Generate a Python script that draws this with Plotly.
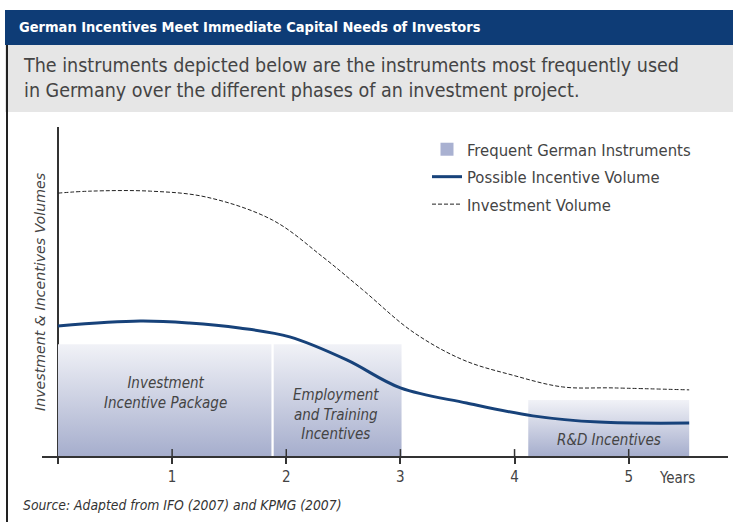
import plotly.graph_objects as go

# ---------------- data ----------------
years_invest = [0.0, 0.28, 0.81, 1.30, 1.88, 2.32, 2.67, 3.11, 3.55, 3.98, 4.42, 4.86, 5.53]
invest_volume = [79.9, 80.5, 80.5, 78.7, 71.7, 60.5, 50.5, 37.7, 29.2, 24.6, 21.0, 20.7, 20.1]

years_incentive = [0.0, 0.72, 1.15, 1.59, 2.03, 2.53, 3.0, 3.58, 4.16, 4.74, 5.53]
incentive_volume = [39.5, 41.0, 40.4, 38.9, 36.2, 29.2, 20.7, 16.1, 12.2, 10.3, 10.0]

box_start = [0.0, 1.89, 4.12]
box_end = [1.87, 3.01, 5.53]
box_top = [34.0, 34.0, 17.0]
box_labels = ["Investment<br>Incentive Package",
              "Employment<br>and Training<br>Incentives",
              "R&D Incentives"]
box_label_x = [0.94, 2.44, 4.83]
box_label_y = [19.3, 12.5, 4.9]

tick_vals = [0, 1, 2, 3, 4, 5]
tick_text = ["", "1", "2", "3", "4", "5"]

series_names = ["Frequent German Instruments", "Possible Incentive Volume", "Investment Volume"]

title_text = "German Incentives Meet Immediate Capital Needs of Investors"
subtitle_text = ("The instruments depicted below are the instruments most frequently used<br>"
                 "in Germany over the different phases of an investment project.")
source_text = "Source: Adapted from IFO (2007) and KPMG (2007)"
y_title = "Investment & Incentives Volumes"

# ---------------- layout geometry ----------------
W, H = 733, 522
ML, MR, MT, MB = 42, 5, 127, 66
PW, PH = W - ML - MR, H - MT - MB


def px(x):
    return (x - ML) / PW


def py(y):
    return (H - MB - y) / PH


COND = "DejaVu Sans Condensed, DejaVu Sans, sans-serif"
REG = "DejaVu Sans, sans-serif"
TXT = "#444444"
NAVY = "#17427a"
BOXC = "#a9b1d1"

fig = go.Figure()

for i in range(len(box_start)):
    s, e, t = box_start[i], box_end[i], box_top[i]
    fig.add_trace(go.Scatter(
        x=[s, e, e, s, s], y=[0, 0, t, t, 0],
        mode="lines", fill="toself",
        line=dict(width=0, color=BOXC),
        fillcolor=BOXC,
        fillgradient=dict(type="vertical",
                          colorscale=[[0, "#a6aecd"], [1, "#f1f2f7"]]),
        name=series_names[0], legendgroup="g1", showlegend=False, hoverinfo="skip",
    ))

# legend entry for the shaded instrument boxes
fig.add_trace(go.Scatter(
    x=[None], y=[None], mode="markers",
    marker=dict(symbol="square", size=13, color=BOXC),
    name=series_names[0], legendgroup="g1",
))

fig.add_trace(go.Scatter(
    x=years_incentive, y=incentive_volume, mode="lines",
    line=dict(color=NAVY, width=3, shape="spline", smoothing=1.0),
    name=series_names[1], legendgroup="g2",
))
fig.add_trace(go.Scatter(
    x=years_invest, y=invest_volume, mode="lines",
    line=dict(color="#222222", width=1, dash="4px,2px", shape="spline", smoothing=1.0),
    name=series_names[2], legendgroup="g3",
))

shapes = []
# header bar and subtitle box
shapes.append(dict(type="rect", xref="paper", yref="paper",
                   x0=px(5), x1=px(733), y0=py(45), y1=py(10),
                   fillcolor="#0e3c76", line=dict(width=0), layer="below"))
shapes.append(dict(type="rect", xref="paper", yref="paper",
                   x0=px(5), x1=px(733), y0=py(112), y1=py(45),
                   fillcolor="#e6e6e6", line=dict(width=0), layer="below"))
# left frame line
shapes.append(dict(type="line", xref="paper", yref="paper",
                   x0=px(7), x1=px(7), y0=py(522), y1=py(45),
                   line=dict(color="#222222", width=2)))
# inside part of crossing ticks
for v in tick_vals[1:]:
    shapes.append(dict(type="line", xref="x", yref="y",
                       x0=v, x1=v, y0=0, y1=2.1,
                       line=dict(color="#333333", width=1.5)))

annotations = []
annotations.append(dict(text="<b>" + title_text + "</b>", xref="paper", yref="paper",
                        x=px(17), y=py(27), xanchor="left", yanchor="middle",
                        showarrow=False, font=dict(family=COND, size=14.5, color="white")))
annotations.append(dict(text=subtitle_text, xref="paper", yref="paper",
                        x=px(21), y=py(78), xanchor="left", yanchor="middle", align="left",
                        showarrow=False, font=dict(family=COND, size=19.5, color=TXT)))
annotations.append(dict(text="<i>" + y_title + "</i>", xref="paper", yref="paper",
                        x=px(40), y=py(292), xanchor="center", yanchor="middle",
                        textangle=-90, showarrow=False,
                        font=dict(family=REG, size=14.2, color=TXT)))
for lx, ly, lt in zip(box_label_x, box_label_y, box_labels):
    annotations.append(dict(text="<i>" + lt + "</i>", x=lx, y=ly, xref="x", yref="y",
                            xanchor="center", yanchor="middle", showarrow=False,
                            font=dict(family=COND, size=15, color=TXT)))
annotations.append(dict(text="Years", xref="paper", yref="paper",
                        x=px(677), y=py(478), xanchor="center", yanchor="middle",
                        showarrow=False, font=dict(family=COND, size=15, color=TXT)))
annotations.append(dict(text="<i>" + source_text + "</i>", xref="paper", yref="paper",
                        x=px(21), y=py(505), xanchor="left", yanchor="middle",
                        showarrow=False, font=dict(family=COND, size=13.8, color="#333333")))

fig.update_layout(
    width=W, height=H,
    margin=dict(l=ML, r=MR, t=MT, b=MB, pad=0),
    paper_bgcolor="white", plot_bgcolor="white",
    font=dict(family=COND, color=TXT),
    showlegend=True,
    legend=dict(x=px(427), y=py(132), xanchor="left", yanchor="top",
                bgcolor="rgba(0,0,0,0)", traceorder="grouped", tracegroupgap=3,
                font=dict(family=COND, size=16.5, color=TXT)),
    xaxis=dict(range=[-0.14, 5.87], showgrid=False,
               zeroline=True, zerolinecolor="#333333", zerolinewidth=2,
               showline=True, linecolor="#333333", linewidth=2,
               ticks="outside", ticklen=6, tickwidth=1.5, tickcolor="#333333",
               tickvals=tick_vals, ticktext=tick_text,
               tickfont=dict(family=COND, size=15, color=TXT),
               ticklabelstandoff=0, fixedrange=True),
    yaxis=dict(range=[0, 100], showgrid=False, zeroline=False, showline=False,
               showticklabels=False, ticks="", fixedrange=True),
    shapes=shapes, annotations=annotations,
)

fig.write_html("out.html", config={"displayModeBar": False},
               post_script="document.body.style.margin='0';document.body.style.overflow='hidden';")
